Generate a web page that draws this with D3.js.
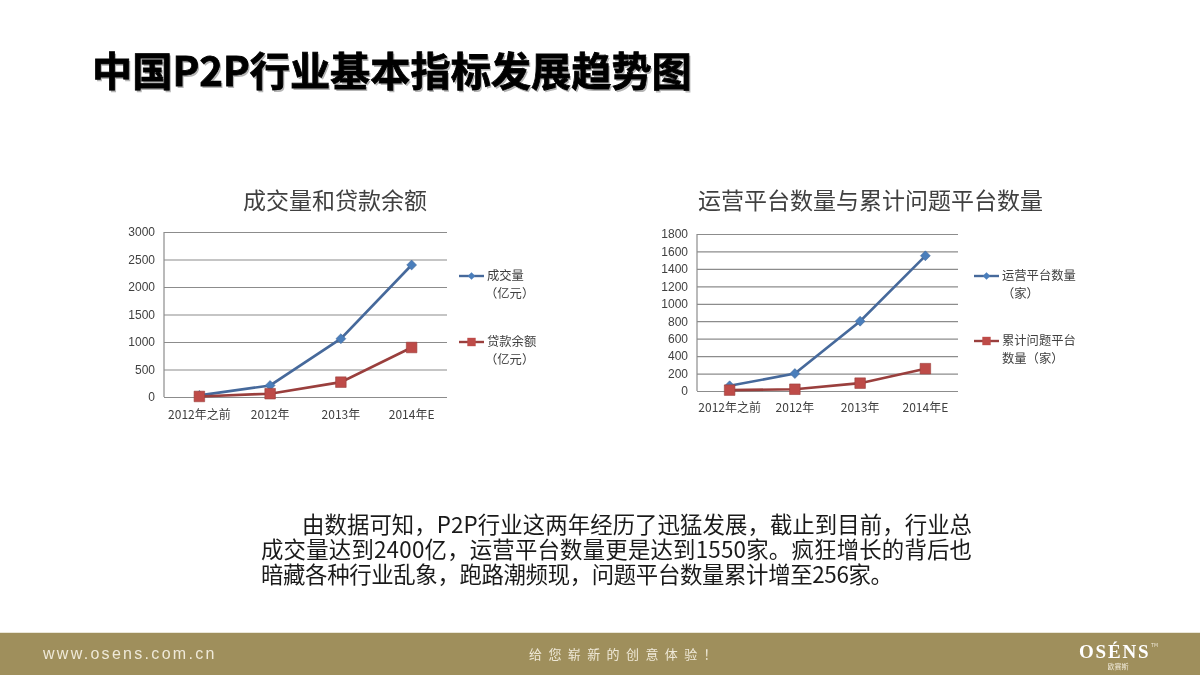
<!DOCTYPE html>
<html>
<head>
<meta charset="utf-8">
<script src="https://cdn.jsdelivr.net/npm/d3@7"></script>
<style>
    html, body { margin: 0; padding: 0; background: #fff; }
    svg { display: block; filter: blur(0.45px); }
    text { font-family: "Noto Sans CJK SC", "Noto Sans", sans-serif; }
    .axis path { display: none; }
    .axis line { display: none; }
    .grid line { stroke: #8c8c8c; stroke-width: 1.2; }
    .grid path { display: none; }
</style>
</head>
<body>
<div id="chart"></div>
<script>
// Chart data
const categories = ['2012年之前', '2012年', '2013年', '2014年E'];

const volumeValues = [30, 210, 1060, 2400];
const loanValues = [10, 60, 270, 900];
const leftTicks = [0, 500, 1000, 1500, 2000, 2500, 3000];

const platformValues = [60, 200, 800, 1550];
const problemValues = [10, 20, 90, 256];
const rightTicks = [0, 200, 400, 600, 800, 1000, 1200, 1400, 1600, 1800];

const pageTitle = '中国P2P行业基本指标发展趋势图';
const bodyLines = [
    '由数据可知，P2P行业这两年经历了迅猛发展，截止到目前，行业总',
    '成交量达到2400亿，运营平台数量更是达到1550家。疯狂增长的背后也',
    '暗藏各种行业乱象，跑路潮频现，问题平台数量累计增至256家。'
];

const BLUE_LINE = '#46699b';
const BLUE_DOT = '#4a7ebb';
const RED_LINE = '#9a3f3d';
const RED_DOT = '#be4b48';

const svg = d3.select('#chart').append('svg')
    .attr('width', 1200)
    .attr('height', 675);

svg.append('rect').attr('width', 1200).attr('height', 675).attr('fill', '#fff');

// Render one line chart with its legend
function renderChart(options) {
    const g = svg.append('g').attr('class', 'panel');

    const x = d3.scaleBand()
        .domain(categories)
        .range([options.left, options.right]);

    const y = d3.scaleLinear()
        .domain(d3.extent(options.ticks))
        .range([options.bottom, options.top]);

    g.append('text')
        .attr('x', options.titleX)
        .attr('y', options.titleY)
        .attr('text-anchor', 'middle')
        .attr('font-size', 23)
        .attr('fill', '#404040')
        .text(options.title);

    // Grid lines
    g.append('g')
        .attr('class', 'grid')
        .attr('transform', `translate(${options.left},0)`)
        .call(d3.axisLeft(y)
            .tickValues(options.ticks)
            .tickSize(-(options.right - options.left))
            .tickFormat(''));

    // Left edge of the plot
    g.append('line')
        .attr('x1', options.left).attr('x2', options.left)
        .attr('y1', options.top).attr('y2', options.bottom)
        .attr('stroke', '#8c8c8c').attr('stroke-width', 1.2);

    // Axes
    const yAxis = g.append('g')
        .attr('class', 'axis')
        .attr('transform', `translate(${options.left - 3},0)`)
        .call(d3.axisLeft(y).tickValues(options.ticks).tickSize(0).tickPadding(6).tickFormat(d3.format('d')));
    yAxis.selectAll('text').attr('font-size', 12).attr('fill', '#404040')
        .style('font-family', '"Liberation Sans", sans-serif');

    const xAxis = g.append('g')
        .attr('class', 'axis')
        .attr('transform', `translate(0,${options.bottom})`)
        .call(d3.axisBottom(x).tickSize(0).tickPadding(options.xPad));
    xAxis.selectAll('text').attr('font-size', 12).attr('fill', '#404040');

    const line = d3.line()
        .x((d, i) => x(categories[i]) + x.bandwidth() / 2)
        .y(d => y(d));

    const diamond = d3.symbol().type(d3.symbolDiamond2).size(62);
    const square = d3.symbol().type(d3.symbolSquare).size(112);

    options.series.forEach(s => {
        g.append('path')
            .datum(s.values)
            .attr('d', line)
            .attr('fill', 'none')
            .attr('stroke', s.lineColor)
            .attr('stroke-width', 2.6);

        g.selectAll(null)
            .data(s.values)
            .enter().append('path')
            .attr('d', s.marker === 'diamond' ? diamond : square)
            .attr('transform', (d, i) => `translate(${x(categories[i]) + x.bandwidth() / 2},${y(d)})`)
            .attr('fill', s.dotColor)
            .attr('stroke', s.lineColor)
            .attr('stroke-width', 0.6);

        // Legend
        g.append('line')
            .attr('x1', options.legendX).attr('x2', options.legendX + 25)
            .attr('y1', s.legendY).attr('y2', s.legendY)
            .attr('stroke', s.lineColor).attr('stroke-width', 2.4);
        g.append('path')
            .attr('d', s.marker === 'diamond' ? d3.symbol().type(d3.symbolDiamond2).size(36)() : d3.symbol().type(d3.symbolSquare).size(70)())
            .attr('transform', `translate(${options.legendX + 12.5},${s.legendY})`)
            .attr('fill', s.dotColor);
        s.legend.forEach((label, i) => {
            g.append('text')
                .attr('x', options.legendX + 28 + (label.startsWith('（') ? s.indent : 0))
                .attr('y', s.legendY + 4 + i * 18)
                .attr('font-size', 12.3)
                .attr('fill', '#404040')
                .text(label);
        });
    });
}

// Slide title with its soft shadow
svg.append('text')
    .attr('x', 92).attr('y', 86)
    .attr('font-size', 40.2).attr('font-weight', 700)
    .attr('fill', '#b5b5b5')
    .attr('transform', 'translate(1.5,1.5)')
    .text(pageTitle);
svg.append('text')
    .attr('x', 92).attr('y', 86)
    .attr('font-size', 40.2).attr('font-weight', 700)
    .attr('fill', '#000')
    .attr('stroke', '#000').attr('stroke-width', 0.8)
    .text(pageTitle);

renderChart({
    title: '成交量和贷款余额',
    titleX: 335, titleY: 209,
    left: 164, right: 447, top: 232, bottom: 397,
    ticks: leftTicks,
    xPad: 13,
    legendX: 459,
    series: [
        { values: volumeValues, lineColor: BLUE_LINE, dotColor: BLUE_DOT, marker: 'diamond',
          legendY: 276, indent: -2, legend: ['成交量', '（亿元）'] },
        { values: loanValues, lineColor: RED_LINE, dotColor: RED_DOT, marker: 'square',
          legendY: 342, indent: -2, legend: ['贷款余额', '（亿元）'] }
    ]
});

renderChart({
    title: '运营平台数量与累计问题平台数量',
    titleX: 870.5, titleY: 209,
    left: 697, right: 958, top: 234, bottom: 391,
    ticks: rightTicks,
    xPad: 12,
    legendX: 974,
    series: [
        { values: platformValues, lineColor: BLUE_LINE, dotColor: BLUE_DOT, marker: 'diamond',
          legendY: 276, indent: 0, legend: ['运营平台数量', '（家）'] },
        { values: problemValues, lineColor: RED_LINE, dotColor: RED_DOT, marker: 'square',
          legendY: 341, indent: 0, legend: ['累计问题平台', '数量（家）'] }
    ]
});

// Body paragraph
const bodyX = [302, 261, 261];
const bodyY = [533, 558, 583];
const bodyWidth = [670, 711, 632];
svg.selectAll('.body-line')
    .data(bodyLines)
    .enter().append('text')
    .attr('class', 'body-line')
    .attr('x', (d, i) => bodyX[i])
    .attr('y', (d, i) => bodyY[i])
    .attr('textLength', (d, i) => bodyWidth[i])
    .attr('lengthAdjust', 'spacing')
    .attr('font-size', 22.4)
    .attr('fill', '#1a1a1a')
    .text(d => d);

// Footer band
svg.append('rect').attr('x', 0).attr('y', 633).attr('width', 1200).attr('height', 42).attr('fill', '#9f8f5c');
svg.append('rect').attr('x', 0).attr('y', 632).attr('width', 1200).attr('height', 1).attr('fill', '#e9e6d8');

svg.append('text')
    .attr('x', 43).attr('y', 659)
    .attr('font-size', 16)
    .attr('letter-spacing', 2.3)
    .attr('fill', '#efe9d8')
    .style('font-family', '"Liberation Sans", sans-serif')
    .text('www.osens.com.cn');

svg.append('text')
    .attr('x', 529).attr('y', 659)
    .attr('font-size', 13)
    .attr('letter-spacing', 6.4)
    .attr('fill', '#efe9d8')
    .text('给您崭新的创意体验！');

svg.append('text')
    .attr('x', 1079).attr('y', 658)
    .attr('font-size', 19).attr('font-weight', 700)
    .attr('letter-spacing', 1.8)
    .attr('fill', '#fff')
    .style('font-family', '"Liberation Serif", serif')
    .text('OSÉNS');
svg.append('text')
    .attr('x', 1151).attr('y', 647)
    .attr('font-size', 5)
    .attr('fill', '#efe9d8')
    .text('TM');
svg.append('text')
    .attr('x', 1118).attr('y', 669)
    .attr('text-anchor', 'middle')
    .attr('font-size', 7)
    .attr('fill', '#efe9d8')
    .text('欧赛斯');
</script>
</body>
</html>
